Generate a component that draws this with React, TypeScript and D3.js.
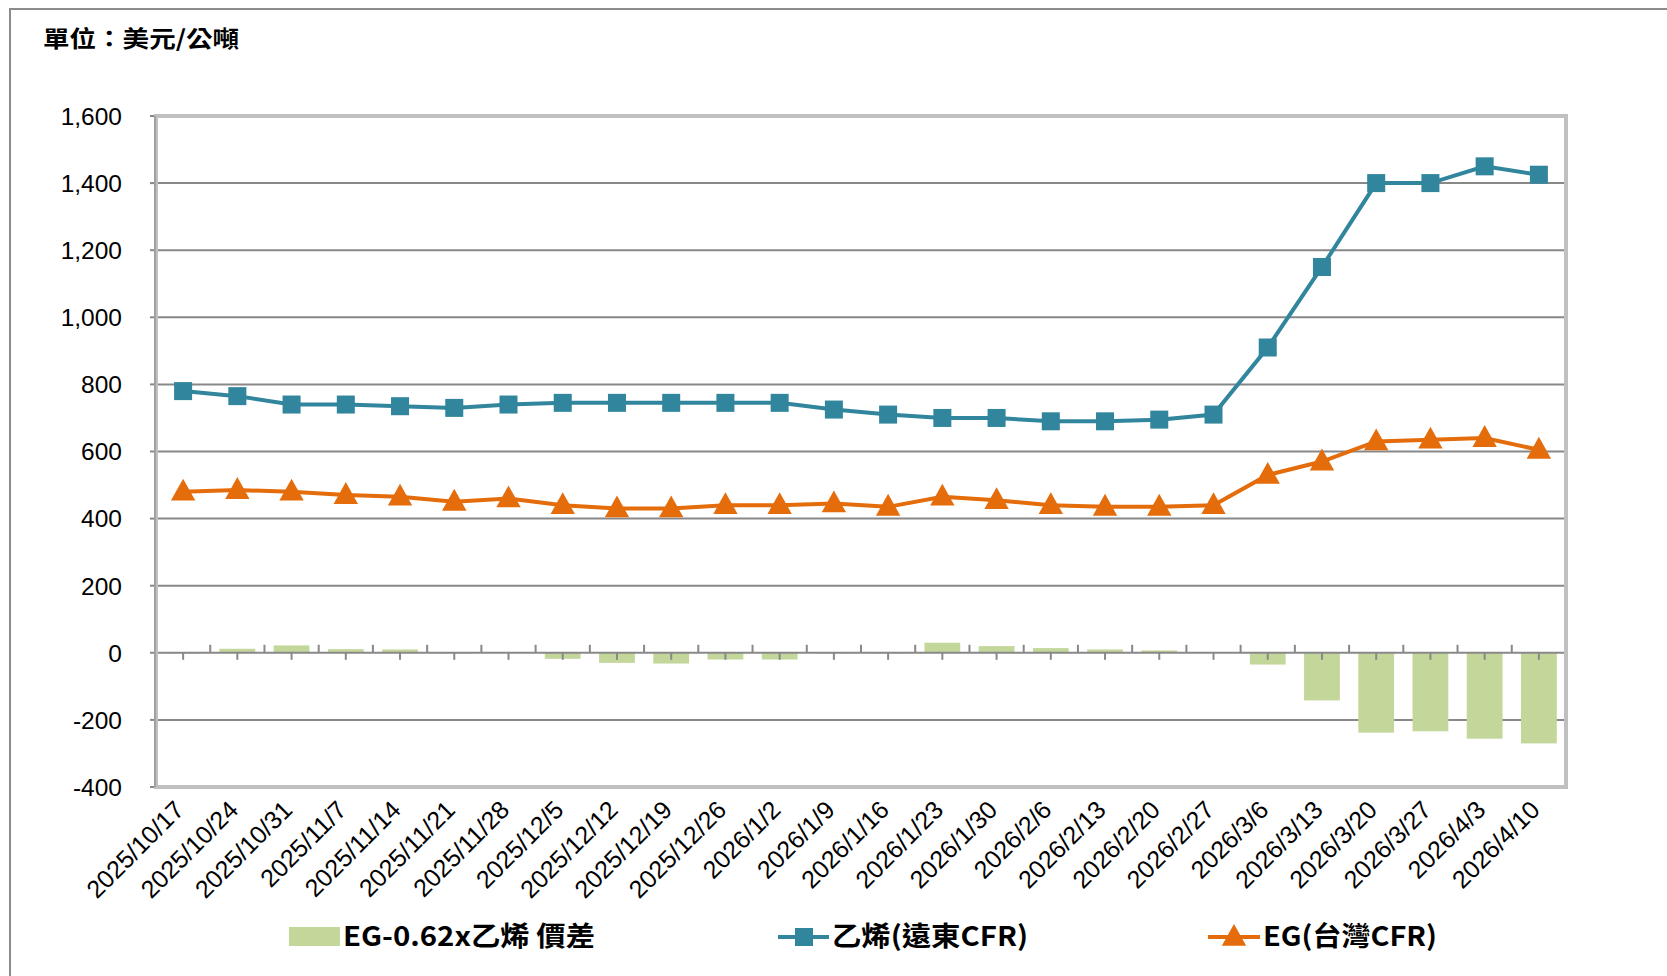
import { useMemo } from "react";
import * as d3 from "d3";

const dates = [
  "2025/10/17", "2025/10/24", "2025/10/31", "2025/11/7", "2025/11/14", "2025/11/21",
  "2025/11/28", "2025/12/5", "2025/12/12", "2025/12/19", "2025/12/26", "2026/1/2",
  "2026/1/9", "2026/1/16", "2026/1/23", "2026/1/30", "2026/2/6", "2026/2/13",
  "2026/2/20", "2026/2/27", "2026/3/6", "2026/3/13", "2026/3/20", "2026/3/27",
  "2026/4/3", "2026/4/10",
];

// 乙烯(遠東CFR)
const ethylene = [
  780, 765, 740, 740, 735, 730, 740, 745, 745, 745, 745, 745, 725, 710, 700, 700,
  690, 690, 695, 710, 910, 1150, 1400, 1400, 1450, 1425,
];

// EG(台灣CFR)
const eg = [
  480, 485, 480, 470, 465, 450, 460, 440, 430, 430, 440, 440, 445, 435, 465, 455,
  440, 435, 435, 440, 530, 570, 630, 635, 640, 605,
];

// EG-0.62x乙烯 價差
const spread = [
  -2, 12, 22, 11, 10, -2, 1, -18, -30, -32, -20, -20, -2, -2, 30, 20,
  14, 10, 7, 2, -35, -142, -238, -234, -256, -270,
];

const yTicks = [-400, -200, 0, 200, 400, 600, 800, 1000, 1200, 1400, 1600];

const W = 1667;
const H = 976;
const plot = { left: 156, right: 1566, top: 116, bottom: 787 };

const BLUE = "#31859c";
const ORANGE = "#e46c0a";
const GREEN = "#c4d79b";
const GRID = "#888888";

const tri = (cx: number, cy: number, s: number) =>
  `M${cx},${cy - s * 0.62} L${cx + s * 0.58},${cy + s * 0.42} L${cx - s * 0.58},${cy + s * 0.42} Z`;

export default function App() {
  const x = useMemo(
    () => d3.scaleBand<string>().domain(dates).range([plot.left, plot.right]).paddingInner(0).paddingOuter(0),
    []
  );
  const y = useMemo(
    () => d3.scaleLinear().domain([-400, 1600]).range([plot.bottom, plot.top]),
    []
  );
  const cx = (d: string) => (x(d) ?? 0) + x.bandwidth() / 2;

  const lineGen = d3
    .line<number>()
    .x((_, i) => cx(dates[i]))
    .y((v) => y(v));

  const barW = x.bandwidth() * 0.66;
  const y0 = y(0);
  const fmt = (t: number) => d3.format(",")(t).replace("\u2212", "-");
  const font = "'Liberation Sans', Arial, sans-serif";
  const cjk = "'Noto Sans CJK TC', 'Noto Sans', sans-serif";

  return (
    <svg
      width={W}
      height={H}
      style={{ position: "absolute", left: 0, top: 0, display: "block", background: "#fff" }}
    >
      {/* outer frame */}
      <rect x={10} y={9} width={W + 20} height={H + 20} fill="#fff" stroke="#8c8c8c" strokeWidth={2} />

      <text x={43} y={47} fontFamily={cjk} fontWeight={700} fontSize={23} fill="#000" textLength={196} lengthAdjust="spacingAndGlyphs">
        單位：美元/公噸
      </text>

      {/* gridlines */}
      {yTicks
        .filter((t) => t !== -400 && t !== 1600 && t !== 0)
        .map((t) => (
          <line key={t} x1={plot.left} x2={plot.right} y1={y(t)} y2={y(t)} stroke={GRID} strokeWidth={2} />
        ))}

      {/* y tick labels */}
      {yTicks.map((t) => (
        <g key={`yl${t}`}>
          <line x1={plot.left - 6} x2={plot.left} y1={y(t)} y2={y(t)} stroke={GRID} strokeWidth={2} />
          <text x={122} y={y(t)} dy="0.36em" textAnchor="end" fontFamily={font} fontSize={24.5} fill="#000">
            {fmt(t)}
          </text>
        </g>
      ))}

      {/* bars */}
      {spread.map((v, i) => (
        <rect
          key={dates[i]}
          x={cx(dates[i]) - barW / 2}
          y={Math.min(y(v), y0)}
          width={barW}
          height={Math.abs(y(v) - y0)}
          fill={GREEN}
        />
      ))}

      {/* zero axis with ticks */}
      <line x1={plot.left} x2={plot.right} y1={y0} y2={y0} stroke={GRID} strokeWidth={2} />
      {dates.map((d, i) => (
        <g key={`t${d}`}>
          <line x1={cx(d)} x2={cx(d)} y1={y0} y2={y0 + 7} stroke={GRID} strokeWidth={2} />
          {i > 0 && (
            <line x1={x(d)} x2={x(d)} y1={y0 - 8} y2={y0} stroke={GRID} strokeWidth={2} />
          )}
        </g>
      ))}
      <line x1={plot.right} x2={plot.right} y1={y0 - 8} y2={y0 + 7} stroke={GRID} strokeWidth={2} />

      {/* plot border */}
      <rect
        x={plot.left}
        y={plot.top}
        width={plot.right - plot.left}
        height={plot.bottom - plot.top}
        fill="none"
        stroke="#c0c0c0"
        strokeWidth={4}
      />
      <line x1={plot.left - 1} x2={plot.left - 1} y1={plot.top} y2={plot.bottom} stroke="#a0a0a0" strokeWidth={2} />

      {/* ethylene line */}
      <path d={lineGen(ethylene) ?? undefined} fill="none" stroke={BLUE} strokeWidth={4} />
      {ethylene.map((v, i) => (
        <rect key={`s${i}`} x={cx(dates[i]) - 9} y={y(v) - 9} width={18} height={18} fill={BLUE} />
      ))}

      {/* EG line */}
      <path d={lineGen(eg) ?? undefined} fill="none" stroke={ORANGE} strokeWidth={4} />
      {eg.map((v, i) => (
        <path key={`tr${i}`} d={tri(cx(dates[i]), y(v), 21)} fill={ORANGE} />
      ))}

      {/* x labels */}
      {dates.map((d) => (
        <text
          key={`xl${d}`}
          transform={`translate(${cx(d) - 10},${plot.bottom + 12}) rotate(-45)`}
          textAnchor="end"
          dy="0.7em"
          fontFamily={font}
          fontSize={25}
          fill="#000"
        >
          {d}
        </text>
      ))}

      {/* legend */}
      <g fontFamily={cjk} fontWeight={700} fontSize={27} fill="#000">
        <rect x={289} y={927} width={51} height={19} fill={GREEN} />
        <text x={343} y={946} textLength={252} lengthAdjust="spacingAndGlyphs">EG-0.62x乙烯 價差</text>

        <line x1={778} x2={829} y1={937} y2={937} stroke={BLUE} strokeWidth={4} />
        <rect x={795} y={928} width={18} height={18} fill={BLUE} />
        <text x={832} y={946} textLength={196} lengthAdjust="spacingAndGlyphs">乙烯(遠東CFR)</text>

        <line x1={1208} x2={1260} y1={937} y2={937} stroke={ORANGE} strokeWidth={4} />
        <path d={tri(1234, 937, 21)} fill={ORANGE} />
        <text x={1263} y={946} textLength={174} lengthAdjust="spacingAndGlyphs">EG(台灣CFR)</text>
      </g>
    </svg>
  );
}
